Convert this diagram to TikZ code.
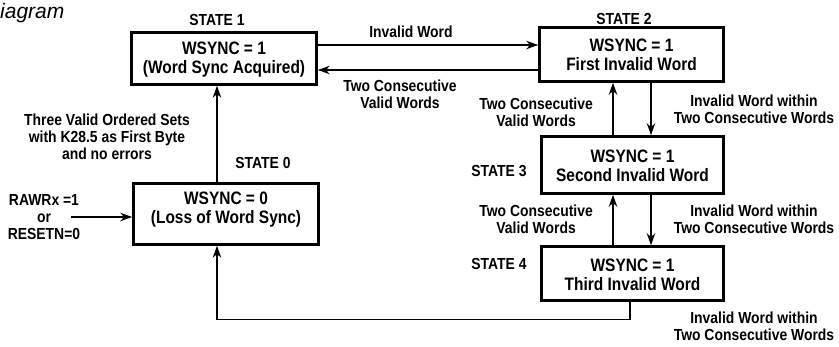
\documentclass[tikz,border=0pt]{standalone}
\usepackage{fontspec}
\setmainfont{Liberation Sans}
\newfontfamily\narrowfont{Liberation Sans}[FakeStretch=0.87]
\newfontfamily\boxfont{Liberation Sans}[FakeStretch=0.86]
\usetikzlibrary{arrows.meta}
\begin{document}
\begin{tikzpicture}[x=1pt,y=-1pt,
  box/.style={draw, line width=2.6pt, inner sep=0},
  lbl/.style={font=\narrowfont\bfseries\fontsize{16}{17}\selectfont, align=center, inner sep=0},
  btxt/.style={font=\boxfont\bfseries\fontsize{18}{19}\selectfont, align=center, inner sep=0},
  arr/.style={line width=1.3pt, -{Stealth[length=12pt,width=8.5pt]}}]
\useasboundingbox (0,0) rectangle (839,346);
% title fragment
\node[anchor=base west, inner sep=0, font=\itshape\fontsize{21}{24}\selectfont] (ttl) at (0,18) {iagram};
% state boxes
\node[box, minimum width=185pt, minimum height=52pt] (s1) at (224,58.5) {};
\node[box, minimum width=184pt, minimum height=54pt] (s2) at (631.5,54.5) {};
\node[box, minimum width=182pt, minimum height=57pt] (s3) at (632.5,165) {};
\node[box, minimum width=182pt, minimum height=54pt] (s4) at (632.5,273.5) {};
\node[box, minimum width=185pt, minimum height=61pt] (s0) at (226,214) {};
% box texts
\node[btxt] (t1) at (224,60) {WSYNC = 1\\(Word Sync Acquired)};
\node[btxt] (t2) at (631.5,54.5) {WSYNC = 1\\First Invalid Word};
\node[btxt] (t3) at (632.5,165.5) {WSYNC = 1\\Second Invalid Word};
\node[btxt] (t4) at (632.5,274.5) {WSYNC = 1\\Third Invalid Word};
\node[btxt] (t0) at (226,209.5) {WSYNC = 0\\(Loss of Word Sync)};
% state labels
\node[lbl] (l1) at (217,20) {STATE 1};
\node[lbl] (l2) at (624,19) {STATE 2};
\node[lbl] (l3) at (499,171) {STATE 3};
\node[lbl] (l4) at (499,264) {STATE 4};
\node[lbl] (l0) at (263,163) {STATE 0};
% transition labels
\node[lbl] (a12) at (411,32) {Invalid Word};
\node[lbl] (a21) at (400,94) {Two Consecutive\\Valid Words};
\node[lbl, anchor=east] (a32) at (593,112) {Two Consecutive\\Valid Words};
\node[lbl] (a23) at (754,109.5) {Invalid Word within\\Two Consecutive Words};
\node[lbl, anchor=east] (a43) at (593,219.5) {Two Consecutive\\Valid Words};
\node[lbl] (a34) at (754,219.5) {Invalid Word within\\Two Consecutive Words};
\node[lbl] (a40) at (754,326) {Invalid Word within\\Two Consecutive Words};
\node[lbl] (a01) at (107,137) {Three Valid Ordered Sets\\with K28.5 as First Byte\\and no errors};
\node[lbl] (rst) at (44,217) {RAWRx =1\\or\\RESETN=0};
\coordinate (rin) at (71,217);
% connectors
\draw[arr] ([yshift=13.5pt]s1.east) -- ([yshift=9.5pt]s2.west);
\draw[arr] ([yshift=-15.5pt]s2.west) -- ([yshift=-11.5pt]s1.east);
\draw[arr] ([xshift=-19.5pt]s3.north) -- ([xshift=-18.5pt]s2.south);
\draw[arr] ([xshift=19.5pt]s2.south) -- ([xshift=18.5pt]s3.north);
\draw[arr] ([xshift=-19.5pt]s4.north) -- ([xshift=-19.5pt]s3.south);
\draw[arr] ([xshift=18.5pt]s3.south) -- ([xshift=18.5pt]s4.north);
\draw[arr] ([xshift=-2.5pt]s4.south) -- ++(0,18) -| ([xshift=-9pt]s0.south);
\draw[arr] ([xshift=-9pt]s0.north) -- ([xshift=-7pt]s1.south);
\draw[arr] (rin) -- ([yshift=-3pt]s0.west);
\end{tikzpicture}
\end{document}
